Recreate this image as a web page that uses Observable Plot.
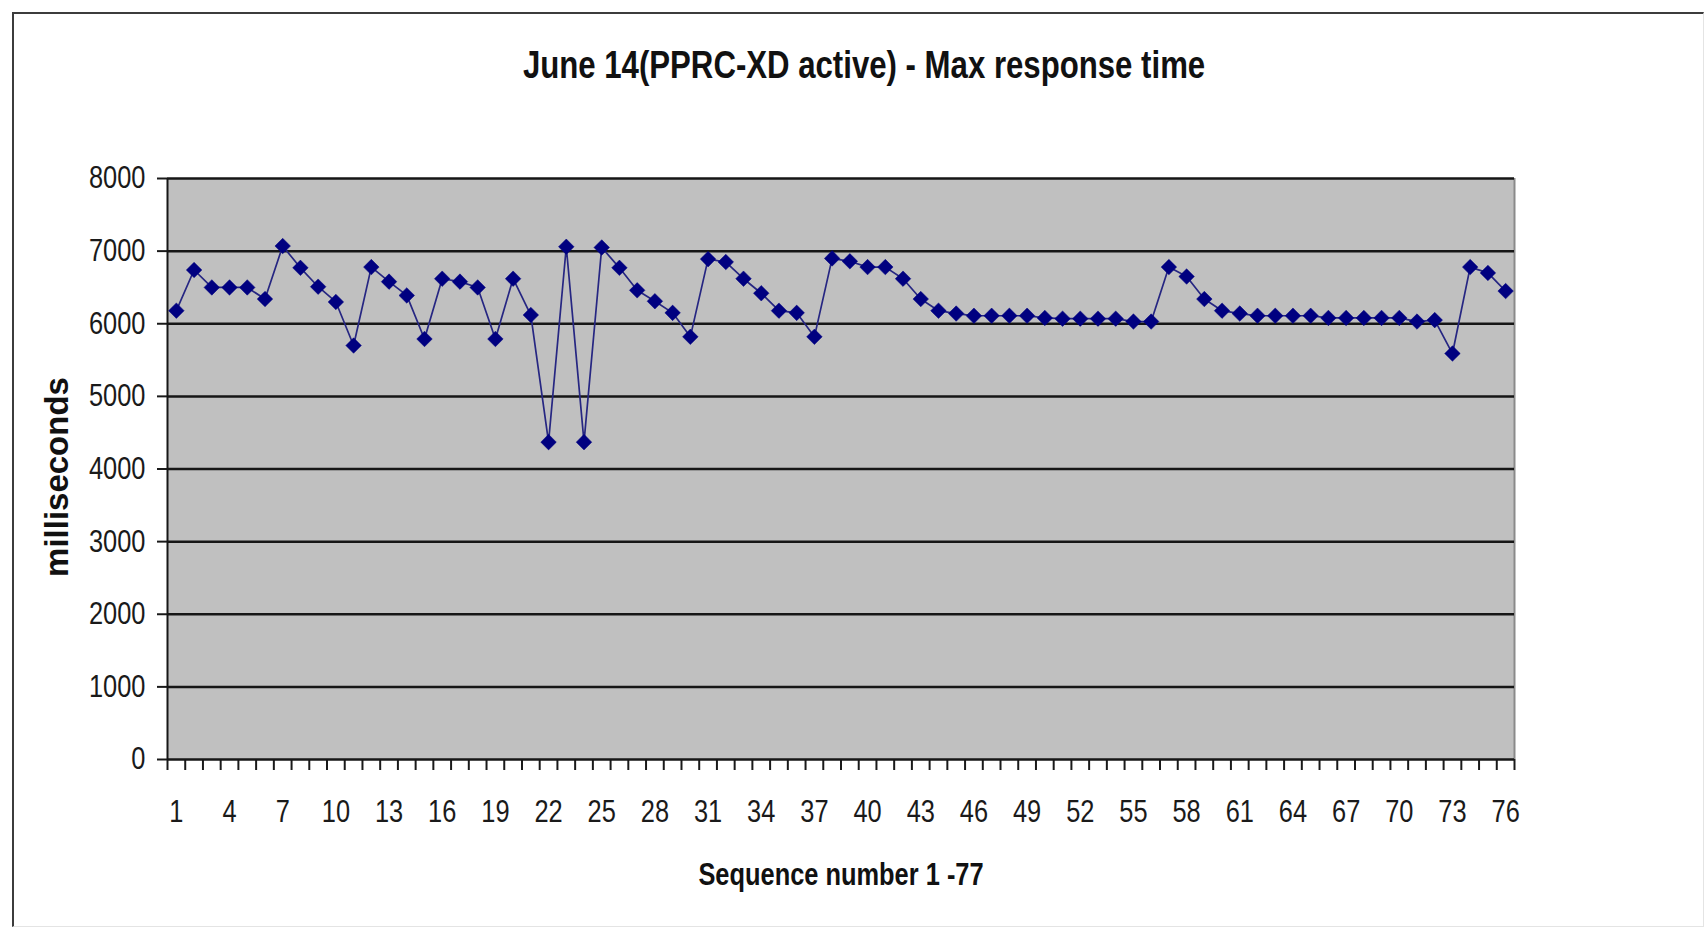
<!DOCTYPE html>
<html><head><meta charset="utf-8">
<script src="https://cdn.jsdelivr.net/npm/d3@7"></script>
<script src="https://cdn.jsdelivr.net/npm/@observablehq/plot@0.6"></script>
<style>
body{margin:0;background:#fff;}
#wrap{position:relative;width:1708px;height:936px;overflow:hidden;font-family:"Liberation Sans",Arial,sans-serif;}
#frame{position:absolute;left:12px;top:12px;width:1689px;height:912px;border-left:2.5px solid #3c3c3c;border-top:2.5px solid #3c3c3c;border-right:1px solid #e4e4e4;border-bottom:1px solid #e4e4e4;pointer-events:none;}
#title{position:relative;width:1728px;height:100px;box-sizing:border-box;padding-top:44px;text-align:center;line-height:42px;}
#title span{display:inline-block;font-weight:bold;font-size:38px;color:#111;transform:scaleX(0.82);transform-origin:50% 50%;white-space:nowrap;}
#chart{position:relative;}
#chart svg{display:block;}
</style></head>
<body>
<div id="wrap">
<div id="frame"></div>
<div id="title"><span>June 14(PPRC-XD active) - Max response time</span></div>
<div id="chart"></div>
</div>
<script>
const seq = d3.range(1, 77);
const maxResponseMs = [
 6180, 6740, 6500, 6500, 6500, 6340, 7070, 6770, 6510, 6300,
 5700, 6780, 6580, 6390, 5790, 6620, 6580, 6500, 5790, 6620,
 6120, 4370, 7060, 4370, 7050, 6770, 6460, 6310, 6150, 5820,
 6890, 6850, 6620, 6420, 6180, 6150, 5820, 6900, 6860, 6780,
 6780, 6620, 6340, 6180, 6140, 6110, 6110, 6110, 6110, 6080,
 6070, 6070, 6070, 6070, 6030, 6030, 6780, 6650, 6340, 6180,
 6140, 6110, 6110, 6110, 6110, 6080, 6080, 6080, 6080, 6080,
 6030, 6050, 5590, 6780, 6700, 6450
];
const yTicks = [0, 1000, 2000, 3000, 4000, 5000, 6000, 7000, 8000];
const xLabels = [1,4,7,10,13,16,19,22,25,28,31,34,37,40,43,46,49,52,55,58,61,64,67,70,73,76];
const xBounds = d3.range(0.5, 77, 1);
const yTitle = "milliseconds";
const xTitle = "Sequence number 1 -77";

const data = seq.map((s, i) => ({seq: s, ms: maxResponseMs[i]}));
const font = '"Liberation Sans",Arial,sans-serif';

const chart = Plot.plot({
  width: 1708, height: 836,
  marginLeft: 167, marginRight: 194, marginTop: 78, marginBottom: 177,
  x: {domain: [0.5, 76.5], axis: null},
  y: {domain: [0, 8000], axis: null},
  style: {fontFamily: font, background: "transparent", color: "#1a1a1a"},
  marks: [
    Plot.frame({fill: "#c0c0c0", stroke: null}),
    Plot.ruleX([76.5], {stroke: "#8a8a8a", strokeWidth: 2}),
    Plot.ruleY(yTicks.filter(d => d > 0), {stroke: "#161616", strokeWidth: 2.5}),
    Plot.axisY({ticks: yTicks, tickSize: 10, tickPadding: 12, fontSize: 31, strokeWidth: 2, tickFormat: d => String(d), label: null}),
    Plot.axisX({ticks: xBounds, tickSize: 11, strokeWidth: 2, tickFormat: () => "", label: null}),
    Plot.axisX({ticks: xLabels, tickSize: 0, tickPadding: 40, fontSize: 31, tickFormat: d => String(d), label: null}),
    Plot.ruleX([0.5], {stroke: "#161616", strokeWidth: 2}),
    Plot.ruleY([0], {stroke: "#161616", strokeWidth: 2.5}),
    Plot.line(data, {x: "seq", y: "ms", stroke: "#262682", strokeWidth: 1.7}),
    Plot.dot(data, {x: "seq", y: "ms", symbol: "diamond2", r: 7, fill: "#000080", stroke: "#000080", strokeWidth: 0.5}),
    Plot.text([yTitle], {text: d => d, frameAnchor: "left", textAnchor: "middle", dx: -110, dy: 8, rotate: -90, fontWeight: "bold", fontSize: 33, fill: "#111", className: "wide"}),
    Plot.text([xTitle], {text: d => d, frameAnchor: "bottom", dy: 125, fontWeight: "bold", fontSize: 31, fill: "#111"})
  ]
});
// narrow the glyphs (the reference uses a condensed face), scaling horizontally about each text's anchor
chart.querySelectorAll("text").forEach(t => {
  if (t.closest(".wide")) return;
  const tr = t.getAttribute("transform") || "";
  const x = parseFloat(t.getAttribute("x"));
  const ax = Number.isFinite(x) ? x : 0;
  t.setAttribute("transform", `${tr} translate(${ax},0) scale(0.82,1) translate(${-ax},0)`.trim());
});
document.getElementById("chart").appendChild(chart);
</script>
</body></html>
